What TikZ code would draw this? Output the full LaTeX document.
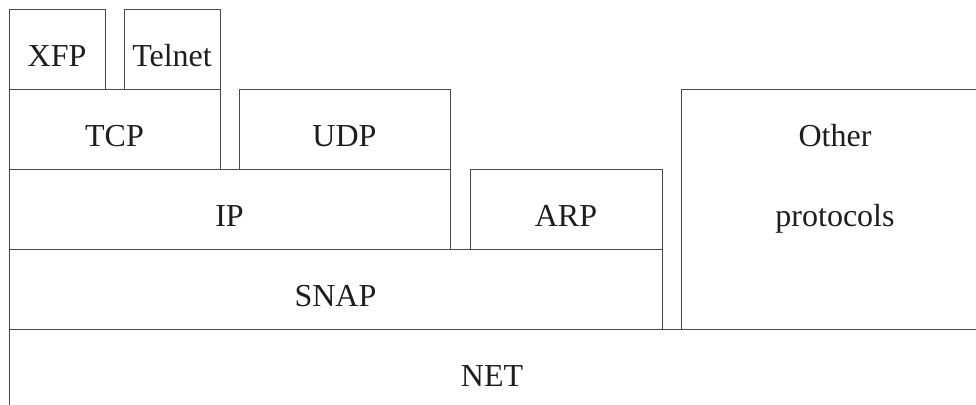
\documentclass[tikz,border=0pt]{standalone}
\usepackage{fontspec}
\setmainfont{Liberation Serif}
\usetikzlibrary{fit}
\definecolor{edge}{HTML}{4A4A4A}
\definecolor{ink}{HTML}{1E1E1E}
\tikzset{
  layer/.style={draw=edge, line width=0.7pt, inner sep=0pt, outer sep=0pt},
  lbl/.style={anchor=base, inner sep=0pt, text=ink, font=\fontsize{24}{28}\selectfont},
}
\begin{document}
\begin{tikzpicture}[x=0.75pt, y=-0.75pt]
  \useasboundingbox (0,0) rectangle (976,404);
  \clip (0,0) rectangle (976,404);
  % protocol layers
  \node[layer, fit={(9,9) (105,89)}]    (xfp)    {};
  \node[layer, fit={(124,9) (220,89)}]  (telnet) {};
  \node[layer, fit={(9,89) (220,169)}]  (tcp)    {};
  \node[layer, fit={(239,89) (450,169)}] (udp)   {};
  \node[layer, fit={(9,169) (450,249)}] (ip)     {};
  \node[layer, fit={(470,169) (662,249)}] (arp)  {};
  \node[layer, fit={(9,249) (662,329)}] (snap)   {};
  \node[layer, fit={(681,89) (990,329)}] (other) {};
  \node[layer, fit={(9,329) (990,420)}] (net)    {};
  % layer names
  \node[lbl] (xfpL)    at ([yshift=-12.75pt]xfp.center)    {XFP};
  \node[lbl] (telnetL) at ([yshift=-12.75pt]telnet.center) {Telnet};
  \node[lbl] (tcpL)    at ([yshift=-12.75pt]tcp.center)    {TCP};
  \node[lbl] (udpL)    at ([yshift=-12.75pt]udp.center)    {UDP};
  \node[lbl] (ipL)     at ([yshift=-12.75pt]ip.center)     {IP};
  \node[lbl] (arpL)    at ([yshift=-12.75pt]arp.center)    {ARP};
  \node[lbl] (snapL)   at ([yshift=-12.75pt]snap.center)   {SNAP};
  \node[lbl] (otherL)  at (835,146) {Other};
  \node[lbl] (protoL)  at (835,226) {protocols};
  \node[lbl] (netL)    at (492,386) {NET};
\end{tikzpicture}
\end{document}
